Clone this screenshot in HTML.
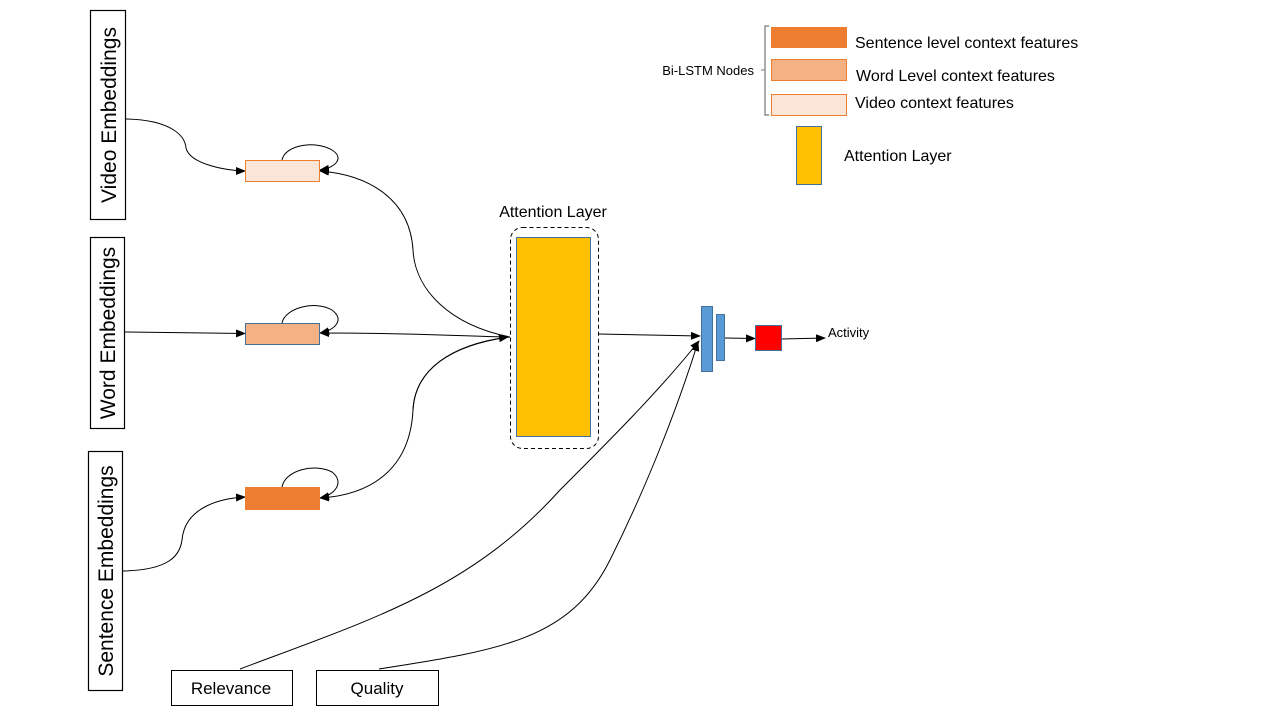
<!DOCTYPE html>
<html><head><meta charset="utf-8"><style>
html,body{margin:0;padding:0;background:#fff;}
svg{display:block;font-family:"Liberation Sans",sans-serif;}
</style></head><body>
<svg width="1280" height="720" viewBox="0 0 1280 720" xmlns="http://www.w3.org/2000/svg">
<defs>
<marker id="a" markerWidth="10" markerHeight="8" refX="9" refY="4" orient="auto" markerUnits="userSpaceOnUse">
<path d="M0,0 L10,4 L0,8 z" fill="#000"/></marker>
</defs>
<!-- input boxes -->
<rect x="90.5" y="10.5" width="35" height="209" fill="#fff" stroke="#000" stroke-width="1.2"/>
<text transform="translate(116,115) rotate(-90)" text-anchor="middle" font-size="21">Video Embeddings</text>
<rect x="90.5" y="237.5" width="34" height="191" fill="#fff" stroke="#000" stroke-width="1.2"/>
<text transform="translate(115,333) rotate(-90)" text-anchor="middle" font-size="21">Word Embeddings</text>
<rect x="88.5" y="451.5" width="34" height="239" fill="#fff" stroke="#000" stroke-width="1.2"/>
<text transform="translate(113,571) rotate(-90)" text-anchor="middle" font-size="21">Sentence Embeddings</text>

<!-- connectors -->
<g fill="none" stroke="#000" stroke-width="1">
<path d="M126,119 C170,120 185,135 186,148 C190,165 230,171 245,171" marker-end="url(#a)"/>
<path d="M124,332 L245,333.5" marker-end="url(#a)"/>
<path d="M123,571 C170,570 180,555 182,540 C185,505 225,498 245,497" marker-end="url(#a)"/>
<!-- self loops -->
<path d="M282,160 C285,145 315,140 332,150 C345,158 335,168 320,170" marker-end="url(#a)"/>
<path d="M282,323 C285,308 315,300 332,310 C345,320 335,330 320,333" marker-end="url(#a)"/>
<path d="M282,487 C285,470 315,463 332,472 C345,482 335,495 320,498" marker-end="url(#a)"/>
<!-- attention to lstm -->
<path d="M510,337 C450,325 415,290 413,250 C410,200 370,175 320,171" marker-end="url(#a)"/>
<path d="M510,337 C450,336 420,333 320,333" marker-end="url(#a)"/>
<path d="M510,337 C450,345 415,370 413,410 C410,470 370,495 320,498" marker-end="url(#a)"/>
<!-- arrowhead into attention -->
<path d="M413,410 C415,370 450,345 508,337" marker-end="url(#a)"/>
<!-- attention to dense -->
<path d="M598,334 L700,336" marker-end="url(#a)"/>
<path d="M240,669 C370,620 470,590 560,490 C610,440 660,390 699,341" marker-end="url(#a)"/>
<path d="M379,669 C500,650 570,640 610,560 C650,480 680,400 698,342" marker-end="url(#a)"/>
<path d="M724,338 L755,338.5" marker-end="url(#a)"/>
<path d="M781,339 L825,338" marker-end="url(#a)"/>
</g>

<!-- LSTM nodes -->
<rect x="245.5" y="160.5" width="74" height="21" fill="#fbe5d6" stroke="#ed7d31"/>
<rect x="245.5" y="323.5" width="74" height="21" fill="#f4b183" stroke="#41719c"/>
<rect x="245.5" y="487.5" width="74" height="22" fill="#ed7d31" stroke="#ed7d31"/>

<!-- attention layer -->
<text x="553" y="217" text-anchor="middle" font-size="16">Attention Layer</text>
<rect x="510.5" y="227.5" width="88" height="221" rx="12" fill="none" stroke="#000" stroke-dasharray="4,3"/>
<rect x="516.5" y="237.5" width="74" height="199" fill="#ffc000" stroke="#41719c"/>

<!-- dense -->
<rect x="701.5" y="306.5" width="11" height="65" fill="#5b9bd5" stroke="#41719c"/>
<rect x="716.5" y="314.5" width="8" height="46" fill="#5b9bd5" stroke="#41719c"/>
<rect x="755.5" y="325.5" width="26" height="25" fill="#ff0000" stroke="#41719c"/>
<text x="828" y="337" font-size="13">Activity</text>

<!-- bottom boxes -->
<rect x="171.5" y="670.5" width="121" height="35" fill="#fff" stroke="#000"/>
<text x="231" y="694" text-anchor="middle" font-size="17">Relevance</text>
<rect x="316.5" y="670.5" width="122" height="35" fill="#fff" stroke="#000"/>
<text x="377" y="694" text-anchor="middle" font-size="17">Quality</text>

<!-- legend -->
<path d="M769,26 L765,26 L765,115 L769,115" fill="none" stroke="#777" stroke-width="1.2"/>
<line x1="761" y1="70" x2="765" y2="70" stroke="#777"/>
<text x="754" y="75" text-anchor="end" font-size="13">Bi-LSTM Nodes</text>
<rect x="771" y="27" width="76" height="21" fill="#ed7d31"/>
<text x="855" y="48" font-size="16">Sentence level context features</text>
<rect x="771.5" y="59.5" width="75" height="21" fill="#f4b183" stroke="#ed7d31"/>
<text x="856" y="81" font-size="16">Word Level context features</text>
<rect x="771.5" y="94.5" width="75" height="21" fill="#fbe5d6" stroke="#ed7d31"/>
<text x="855" y="108" font-size="16">Video context features</text>
<rect x="796.5" y="126.5" width="25" height="58" fill="#ffc000" stroke="#41719c"/>
<text x="844" y="161" font-size="16">Attention Layer</text>
</svg>
</body></html>
